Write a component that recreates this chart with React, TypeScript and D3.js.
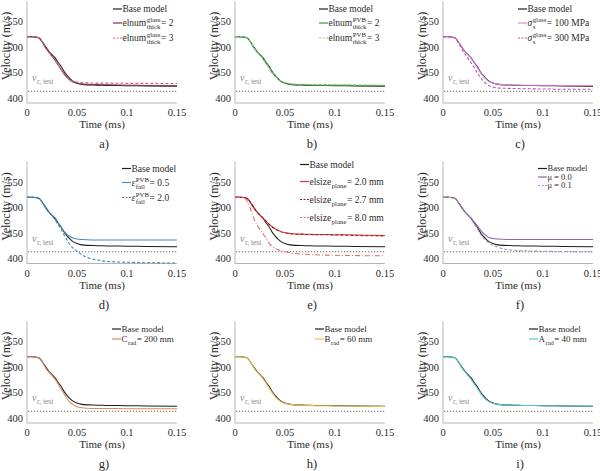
import React, { useEffect, useRef } from "react";
import * as d3 from "d3";

// ---------- data ----------
const timeMs = [0, 0.005, 0.01, 0.013, 0.016, 0.019, 0.022, 0.025, 0.028, 0.031, 0.034, 0.037, 0.04, 0.043, 0.046, 0.05, 0.055, 0.06, 0.07, 0.08, 0.1, 0.12, 0.15];

const baseModel = [520, 520, 519, 516, 508, 499, 491, 485, 479, 470, 462, 452, 444, 438, 433, 429, 426.5, 425.5, 425, 424.5, 424, 423.5, 423];

const aElnum2 = [520, 520, 519, 515, 507, 497, 489, 482, 474, 465, 456, 447, 440, 435, 431, 428.5, 427, 426.5, 426, 425.5, 425, 424.5, 424];
const aElnum3 = [520, 520, 519, 515, 507, 497, 489, 482, 474, 465, 456, 448, 441, 436, 433, 431, 430, 429.5, 429, 429, 428.5, 428.5, 428];

const bElnum2 = [520, 520, 519, 516, 508, 498, 490, 484, 477, 468, 460, 450, 443, 437, 432, 429, 427, 426, 425.5, 425, 425, 424.5, 424];
const bElnum3 = [520, 520, 519, 516, 508, 498, 490, 484, 477, 468, 460, 451, 444, 438, 433, 430, 428, 427, 426.5, 426, 426, 425.5, 425];

const cSigma100 = [520, 520, 519, 516, 508, 499, 491, 485, 478, 469, 460, 451, 443, 437, 432, 429, 427, 426, 425.5, 425, 425, 424.5, 424.5];
const cSigma300 = [520, 520, 519, 515, 506, 495, 486, 478, 469, 460, 450, 441, 434, 428, 424, 421, 419.5, 419, 418.5, 418, 417.5, 417, 417];

const dEps05 = [520, 520, 519, 516, 508, 498, 490, 484, 477, 469, 461, 453, 447, 443, 440, 438, 437, 436.5, 436, 436, 436, 436, 436];
const dEps20 = [520, 520, 519, 516, 508, 498, 490, 484, 476, 467, 457, 446, 436, 427, 420, 414, 407, 402, 397, 394, 392.5, 391.5, 391];

const eSize20 = [520, 520, 519, 516, 508, 499, 491, 485, 479, 473, 467, 462, 458, 455, 452.5, 450.5, 449, 448, 447.5, 447, 446.5, 446, 445];
const eSize27 = [520, 520, 519, 516, 508, 499, 491, 485, 479, 473, 467, 462, 458, 454.5, 452, 450, 448.5, 447.5, 447, 446.5, 446, 445, 444];
const eSize80 = [520, 520, 518, 509, 494, 478, 466, 456, 448, 440, 430, 424, 420, 417, 415, 413, 411, 409.5, 408, 407, 406, 405.5, 405];

const fMu00 = [520, 520, 519, 516, 508, 499, 491, 485, 479, 472, 465, 457, 450, 445, 441, 439, 438, 437.5, 437, 437, 437, 437, 437];
const fMu01 = [520, 520, 519, 516, 508, 498, 490, 484, 477, 468, 459, 449, 441, 435, 430, 426, 422, 419, 416, 415, 414, 413.5, 413];

const gCrad200 = [520, 520, 519, 515, 507, 497, 489, 483, 476, 467, 457, 447, 438, 431, 426, 422, 420, 419, 418.5, 418.5, 418, 418, 418];
const hBrad60 = [520, 520, 519, 516, 508, 498, 490, 484, 477, 468, 459, 450, 442, 436, 432, 428.5, 426.5, 425.5, 425, 424, 423.5, 423, 422.5];
const iArad40 = [520, 520, 519, 516, 508, 498, 490, 483, 476, 467, 459, 450, 442, 436, 432, 428.5, 426.5, 425.5, 425, 424.5, 424, 423.5, 423];

const xTicks = [0, 0.05, 0.1, 0.15];
const xTickLabels = ["0", "0.05", "0.1", "0.15"];
const yTicks = [400, 450, 500, 550];
const yDomain = [390, 590];
const xDomain = [0, 0.15];
const vTest = 413;
const panelLabels = ["a)", "b)", "c)", "d)", "e)", "f)", "g)", "h)", "i)"];
const xTitle = "Time (ms)";
const yTitle = "Velocity (m/s)";

type Part = { t?: string; sup?: string; sub?: string; italic?: boolean };
type Series = { values: number[]; color: string; dash?: string; label: Part[] };

const baseLabel: Part[] = [{ t: "Base model" }];

const panels: { series: Series[]; legendDx: number; legendRows: number[]; fs: number }[] = [
  {
    legendDx: 86, legendRows: [8, 22, 37], fs: 9.5,
    series: [
      { values: baseModel, color: "#1e1e1e", label: baseLabel },
      { values: aElnum2, color: "#8c2d4f", label: [{ t: "elnum" }, { sup: "glass", sub: "thick" }, { t: " = 2" }] },
      { values: aElnum3, color: "#c4678a", dash: "3,2", label: [{ t: "elnum" }, { sup: "glass", sub: "thick" }, { t: " = 3" }] },
    ],
  },
  {
    legendDx: 84, legendRows: [8, 22, 37], fs: 9.5,
    series: [
      { values: baseModel, color: "#1e1e1e", label: baseLabel },
      { values: bElnum2, color: "#3a9a3a", label: [{ t: "elnum" }, { sup: "PVB", sub: "thick" }, { t: " = 2" }] },
      { values: bElnum3, color: "#86c886", dash: "3,2", label: [{ t: "elnum" }, { sup: "PVB", sub: "thick" }, { t: " = 3" }] },
    ],
  },
  {
    legendDx: 75, legendRows: [8, 22, 37], fs: 9.5,
    series: [
      { values: baseModel, color: "#1e1e1e", label: baseLabel },
      { values: cSigma100, color: "#d78ad7", label: [{ t: "σ", italic: true }, { sup: "glass", sub: "s" }, { t: " = 100 MPa" }] },
      { values: cSigma300, color: "#b052b0", dash: "3,2", label: [{ t: "σ", italic: true }, { sup: "glass", sub: "s" }, { t: " = 300 MPa" }] },
    ],
  },
  {
    legendDx: 95, legendRows: [7, 21, 36], fs: 9.5,
    series: [
      { values: baseModel, color: "#1e1e1e", label: baseLabel },
      { values: dEps05, color: "#4f8bb5", label: [{ t: "ε", italic: true }, { sup: "PVB", sub: "fail" }, { t: " = 0.5" }] },
      { values: dEps20, color: "#3d7fb0", dash: "3,2", label: [{ t: "ε", italic: true }, { sup: "PVB", sub: "fail" }, { t: " = 2.0" }] },
    ],
  },
  {
    legendDx: 65, legendRows: [3, 20, 38, 56], fs: 9.5,
    series: [
      { values: baseModel, color: "#1e1e1e", label: baseLabel },
      { values: eSize20, color: "#d43a3a", label: [{ t: "elsize" }, { sub: "plane" }, { t: " = 2.0 mm" }] },
      { values: eSize27, color: "#a81c1c", dash: "3,2", label: [{ t: "elsize" }, { sub: "plane" }, { t: " = 2.7 mm" }] },
      { values: eSize80, color: "#e06a6a", dash: "5,2,1,2", label: [{ t: "elsize" }, { sub: "plane" }, { t: " = 8.0 mm" }] },
    ],
  },
  {
    legendDx: 95, legendRows: [7, 15.5, 24], fs: 8.5,
    series: [
      { values: baseModel, color: "#1e1e1e", label: baseLabel },
      { values: fMu00, color: "#8a6a9a", label: [{ t: "μ = 0.0" }] },
      { values: fMu01, color: "#b08ac0", dash: "3,2", label: [{ t: "μ = 0.1" }] },
    ],
  },
  {
    legendDx: 85, legendRows: [8, 18], fs: 9,
    series: [
      { values: baseModel, color: "#1e1e1e", label: baseLabel },
      { values: gCrad200, color: "#e0885a", label: [{ t: "C" }, { sub: "rad" }, { t: " = 200 mm" }] },
    ],
  },
  {
    legendDx: 80, legendRows: [8, 18], fs: 9,
    series: [
      { values: baseModel, color: "#1e1e1e", label: baseLabel },
      { values: hBrad60, color: "#e6c04a", label: [{ t: "B" }, { sub: "rad" }, { t: " = 60 mm" }] },
    ],
  },
  {
    legendDx: 86, legendRows: [8, 18], fs: 9,
    series: [
      { values: baseModel, color: "#1e1e1e", label: baseLabel },
      { values: iArad40, color: "#4cc8c8", label: [{ t: "A" }, { sub: "rad" }, { t: " = 40 mm" }] },
    ],
  },
];

// ---------- layout ----------
const W = 600;
const H = 471;
const colLeft = [27, 235, 443];
const rowTop = [1, 161.5, 321];
const plotW = 150;
const plotH = 102;

function pickSerif(): string {
  const ctx = document.createElement("canvas").getContext("2d");
  if (!ctx) return "serif";
  const sample = "Velocity (m/s) 0.05 Time Base model";
  ctx.font = "40px monospace";
  const wm = ctx.measureText(sample).width;
  const candidates = ["Liberation Serif", "Times New Roman", "Tinos", "Nimbus Roman", "Nimbus Roman No9 L", "Times", "FreeSerif", "DejaVu Serif"];
  for (const f of candidates) {
    ctx.font = `40px "${f}", monospace`;
    const w1 = ctx.measureText(sample).width;
    ctx.font = `40px "${f}", sans-serif`;
    const w2 = ctx.measureText(sample).width;
    if (Math.abs(w1 - w2) < 0.01 && Math.abs(w1 - wm) > 0.5) return `"${f}", serif`;
  }
  return "serif";
}

export default function App() {
  const ref = useRef<SVGSVGElement | null>(null);

  useEffect(() => {
    const FONT = pickSerif();
    const svg = d3.select(ref.current);
    svg.selectAll("*").remove();
    svg.style("font-family", FONT);
    svg.append("rect").attr("width", W).attr("height", H).attr("fill", "#fff");

    panels.forEach((p, idx) => {
      const left = colLeft[idx % 3];
      const top = rowTop[Math.floor(idx / 3)];
      const x = d3.scaleLinear().domain(xDomain).range([left, left + plotW]);
      const y = d3.scaleLinear().domain(yDomain).range([top + plotH, top]);
      const g = svg.append("g").style("font-family", FONT);
      const txt = "#2a2a2a";

      // axes lines
      g.append("line").attr("x1", left).attr("x2", left).attr("y1", top).attr("y2", top + plotH)
        .attr("stroke", "#b4b4b4").attr("stroke-width", 1);
      g.append("line").attr("x1", left).attr("x2", left + plotW).attr("y1", top + plotH).attr("y2", top + plotH)
        .attr("stroke", "#b4b4b4").attr("stroke-width", 1);

      // ticks
      yTicks.forEach((v) => {
        g.append("text").attr("x", left - 4).attr("y", y(v) + 3.6).attr("text-anchor", "end")
          .attr("font-size", 10.5).attr("fill", txt).text(String(v));
      });
      xTicks.forEach((v, i) => {
        g.append("text").attr("x", x(v)).attr("y", top + plotH + 13).attr("text-anchor", "middle")
          .attr("font-size", 10.5).attr("fill", txt).text(xTickLabels[i]);
      });
      g.append("text").attr("x", left + plotW / 2).attr("y", top + plotH + 25).attr("text-anchor", "middle")
        .attr("font-size", 11).attr("fill", txt).text(xTitle);
      g.append("text")
        .attr("transform", `translate(${left - 17.5},${top + plotH / 2 - 6}) rotate(-90)`)
        .attr("text-anchor", "middle").attr("font-size", 12).attr("fill", txt).text(yTitle);
      g.append("text").attr("x", left + plotW / 2 + 2).attr("y", top + 147).attr("text-anchor", "middle")
        .attr("font-size", 12.5).attr("fill", txt).text(panelLabels[idx]);

      // v test line
      g.append("line").attr("x1", left + 1).attr("x2", left + plotW).attr("y1", y(vTest)).attr("y2", y(vTest))
        .attr("stroke", "#555").attr("stroke-width", 0.9).attr("stroke-dasharray", "1.2,1.8");
      const vt = g.append("text").attr("x", left + 5).attr("y", y(vTest) - 10).attr("fill", "#888");
      vt.append("tspan").attr("font-size", 10).attr("font-style", "italic").text("v");
      vt.append("tspan").attr("font-size", 7.5).attr("dy", 3).attr("dx", 0.5).text("r, test");

      // lines
      const line = d3.line<number>()
        .x((_, i) => x(timeMs[i]))
        .y((d) => y(d))
        .curve(d3.curveMonotoneX);
      p.series.forEach((s) => {
        g.append("path").attr("d", line(s.values) || "").attr("fill", "none")
          .attr("stroke", s.color).attr("stroke-width", 1.05)
          .attr("stroke-dasharray", s.dash || null);
      });

      // legend
      const lx = left + p.legendDx;
      p.series.forEach((s, k) => {
        const ly = top + p.legendRows[k];
        g.append("line").attr("x1", lx).attr("x2", lx + 9).attr("y1", ly).attr("y2", ly)
          .attr("stroke", s.color).attr("stroke-width", 1.2).attr("stroke-dasharray", s.dash ? "2,1.5" : null);
        let cx = lx + 9.5;
        const base = ly + p.fs * 0.33;
        s.label.forEach((part) => {
          if (part.t !== undefined) {
            const t = g.append("text").attr("x", cx).attr("y", base).attr("font-size", p.fs)
              .attr("fill", txt).attr("font-style", part.italic ? "italic" : null).text(part.t);
            cx += (t.node() as SVGTextElement).getComputedTextLength();
          } else {
            let w = 0;
            const sfs = p.fs * 0.72;
            if (part.sup) {
              const t = g.append("text").attr("x", cx + 0.5).attr("y", base - p.fs * 0.42).attr("font-size", sfs)
                .attr("fill", txt).text(part.sup);
              w = Math.max(w, (t.node() as SVGTextElement).getComputedTextLength());
            }
            if (part.sub) {
              const t = g.append("text").attr("x", cx + 0.5).attr("y", base + p.fs * 0.32).attr("font-size", sfs)
                .attr("fill", txt).text(part.sub);
              w = Math.max(w, (t.node() as SVGTextElement).getComputedTextLength());
            }
            cx += w + 1;
          }
        });
      });
    });
  }, []);

  return <svg ref={ref} width={W} height={H} style={{ display: "block", position: "absolute", left: 0, top: 0 }} />;
}
